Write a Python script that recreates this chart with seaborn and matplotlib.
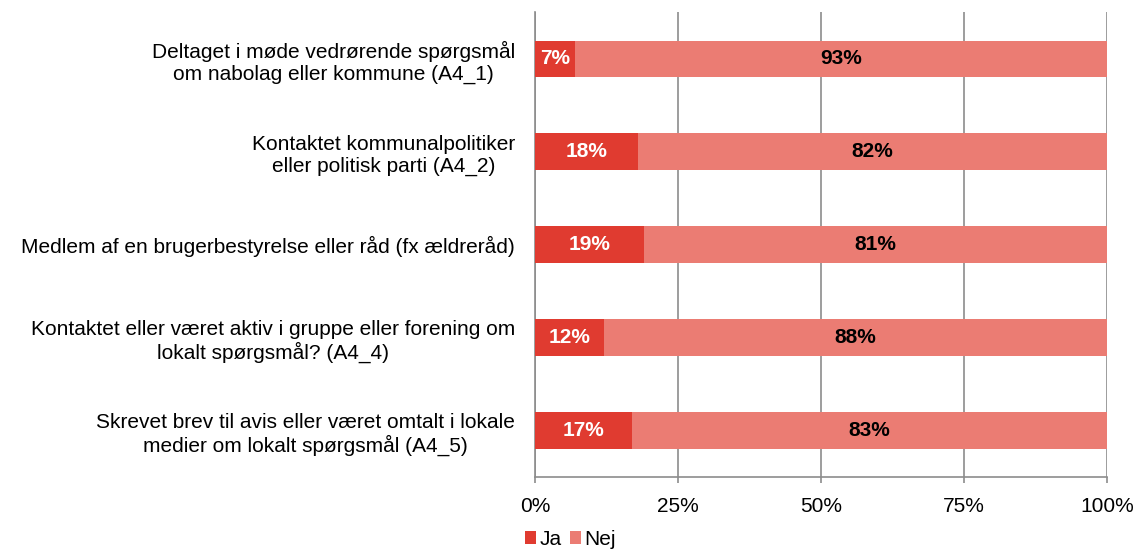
import numpy as np
import pandas as pd
import matplotlib.pyplot as plt
import seaborn as sns

# Data
labels = [
    'Deltaget i møde vedrørende spørgsmål\nom nabolag eller kommune (A4_1)',
    'Kontaktet kommunalpolitiker\neller politisk parti (A4_2)',
    'Medlem af en brugerbestyrelse eller råd (fx ældreråd)',
    'Kontaktet eller været aktiv i gruppe eller forening om\nlokalt spørgsmål? (A4_4)',
    'Skrevet brev til avis eller været omtalt i lokale\nmedier om lokalt spørgsmål (A4_5)',
]
ja = [7, 18, 19, 12, 17]
nej = [93, 82, 81, 88, 83]

df = pd.DataFrame({'label': labels, 'Ja': ja, 'Nej': nej})

sns.set_style('white')
plt.rcParams['font.family'] = ['Liberation Sans', 'DejaVu Sans']
plt.rcParams['text.color'] = 'black'
plt.rcParams['xtick.color'] = 'black'
plt.rcParams['ytick.color'] = 'black'

fig = plt.figure(figsize=(11.36, 5.53), dpi=100)
ax = fig.add_axes([0.471, 0.1374, 0.5035, 0.8406])

red = '#E03B30'
pink = '#EB7C73'
fs = 15
sns.barplot(data=df, y='label', x='Ja', color=red, width=0.39, ax=ax,
            orient='h', label='Ja', zorder=3, linewidth=0, saturation=1)
sns.barplot(data=df, y='label', x=df['Ja'] + df['Nej'], color=pink, width=0.39,
            ax=ax, orient='h', label='Nej', zorder=2, linewidth=0, saturation=1)

for i, (a, b) in enumerate(zip(ja, nej)):
    ax.text(a / 2, i, f'{a}%', ha='center', va='center', color='white',
            fontsize=fs, fontweight='bold', zorder=4)
    ax.text(a + b / 2, i, f'{b}%', ha='center', va='center', color='black',
            fontsize=fs, fontweight='bold', zorder=4)

ax.set_xlim(0, 100)
ax.set_ylim(4.5, -0.5)
ax.set_xticks([0, 25, 50, 75, 100])
ax.set_xticklabels(['0%', '25%', '50%', '75%', '100%'], fontsize=fs)
ax.set_yticks(range(len(labels)))
ax.set_yticklabels(labels, fontsize=fs, multialignment='center')
ax.set_xlabel('')
ax.set_ylabel('')
ax.xaxis.grid(True, color='#8C8C8C', linewidth=1.2, zorder=0)
ax.set_axisbelow(True)
for s in ['top', 'right']:
    ax.spines[s].set_visible(False)
for s in ['left', 'bottom']:
    ax.spines[s].set_color('#8C8C8C')
    ax.spines[s].set_linewidth(1.2)
ax.tick_params(axis='x', bottom=True, length=4.5, width=1.2, color='#8C8C8C',
               labelcolor='black', pad=10)
ax.tick_params(axis='y', left=False, labelcolor='black', pad=11)

h, l = ax.get_legend_handles_labels()
if ax.get_legend() is not None:
    ax.get_legend().remove()
fig.legend(h, l, loc='lower center', bbox_to_anchor=(0.502, -0.026), ncol=2,
           frameon=False, fontsize=fs, handlelength=0.55, handleheight=0.55,
           handletextpad=0.15, columnspacing=0.4, labelcolor='black')

plt.savefig('out.png', dpi=100)
plt.close()
